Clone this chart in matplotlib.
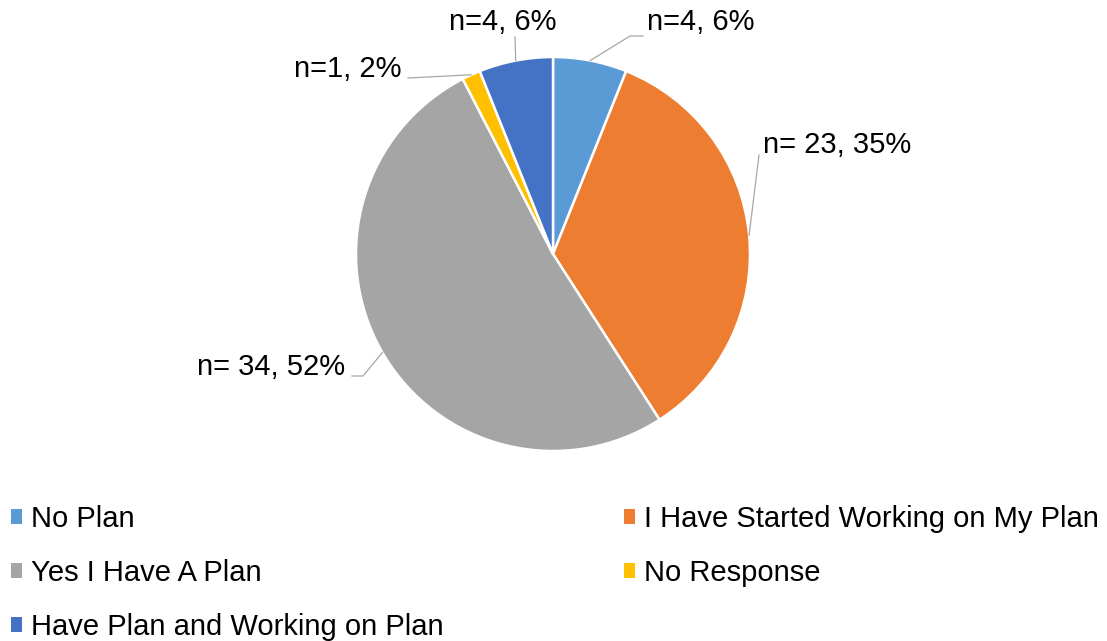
import numpy as np
import matplotlib
matplotlib.use("Agg")
import matplotlib.pyplot as plt
from matplotlib.patches import Patch

plt.rcParams['font.family'] = ['Liberation Sans', 'DejaVu Sans']

# survey answers
categories = ["No Plan", "I Have Started Working on My Plan", "Yes I Have A Plan",
              "No Response", "Have Plan and Working on Plan"]
counts = [4, 23, 34, 1, 4]
colors = ["#5B9BD5", "#ED7D31", "#A5A5A5", "#FFC000", "#4472C4"]

W, H = 1107, 641

# where each data label sits (x, baseline y, alignment), in pixels from the top left
label_spots = [(647, 30, "left"), (763, 153, "left"), (345, 375, "right"),
               (402, 77, "right"), (503, 30, "center")]
# bends of the leader lines, going from the slice edge towards the label
leader_bends = [[(630, 36), (643, 36)], [(759, 155)], [(363, 376), (352, 376)],
                [(408, 78)], [(515, 37)]]

fig = plt.figure(figsize=(W / 100, H / 100), dpi=100)
ax = fig.add_axes([0, 0, 1, 1])

cx, cy, r = 553, H - 254, 197
wedges, _ = ax.pie(counts, colors=colors, startangle=90, counterclock=False,
                   center=(cx, cy), radius=r,
                   wedgeprops=dict(edgecolor='white', linewidth=1.8))
ax.set_xlim(0, W)
ax.set_ylim(0, H)
ax.set_aspect('equal')
ax.axis('off')

total = sum(counts)
for w, n, (tx, ty, ha), bends in zip(wedges, counts, label_spots, leader_bends):
    mid = np.deg2rad((w.theta1 + w.theta2) / 2)
    xs = [cx + r * np.cos(mid)] + [p[0] for p in bends]
    ys = [cy + r * np.sin(mid)] + [H - p[1] for p in bends]
    ax.plot(xs, ys, color='#A6A6A6', lw=0.9)
    pct = round(100 * n / total)
    sep = " " if n >= 10 else ""
    ax.text(tx, H - ty, f"n={sep}{n}, {pct}%", ha=ha, va='baseline', fontsize=21)

# legend in two columns, filled row by row
handles = [Patch(facecolor=c, edgecolor='none') for c in colors]
leg_kw = dict(loc='upper left', frameon=False, fontsize=21, handlelength=0.38,
              handleheight=0.38, handletextpad=0.3, labelspacing=0.89,
              borderpad=0, borderaxespad=0)
left_col = [0, 2, 4]
right_col = [1, 3]
fig.legend([handles[i] for i in left_col], [categories[i] for i in left_col],
           bbox_to_anchor=(11 / W, 1 - 505 / H), **leg_kw)
fig.legend([handles[i] for i in right_col], [categories[i] for i in right_col],
           bbox_to_anchor=(624 / W, 1 - 505 / H), **leg_kw)

fig.savefig('out.png', dpi=100)
